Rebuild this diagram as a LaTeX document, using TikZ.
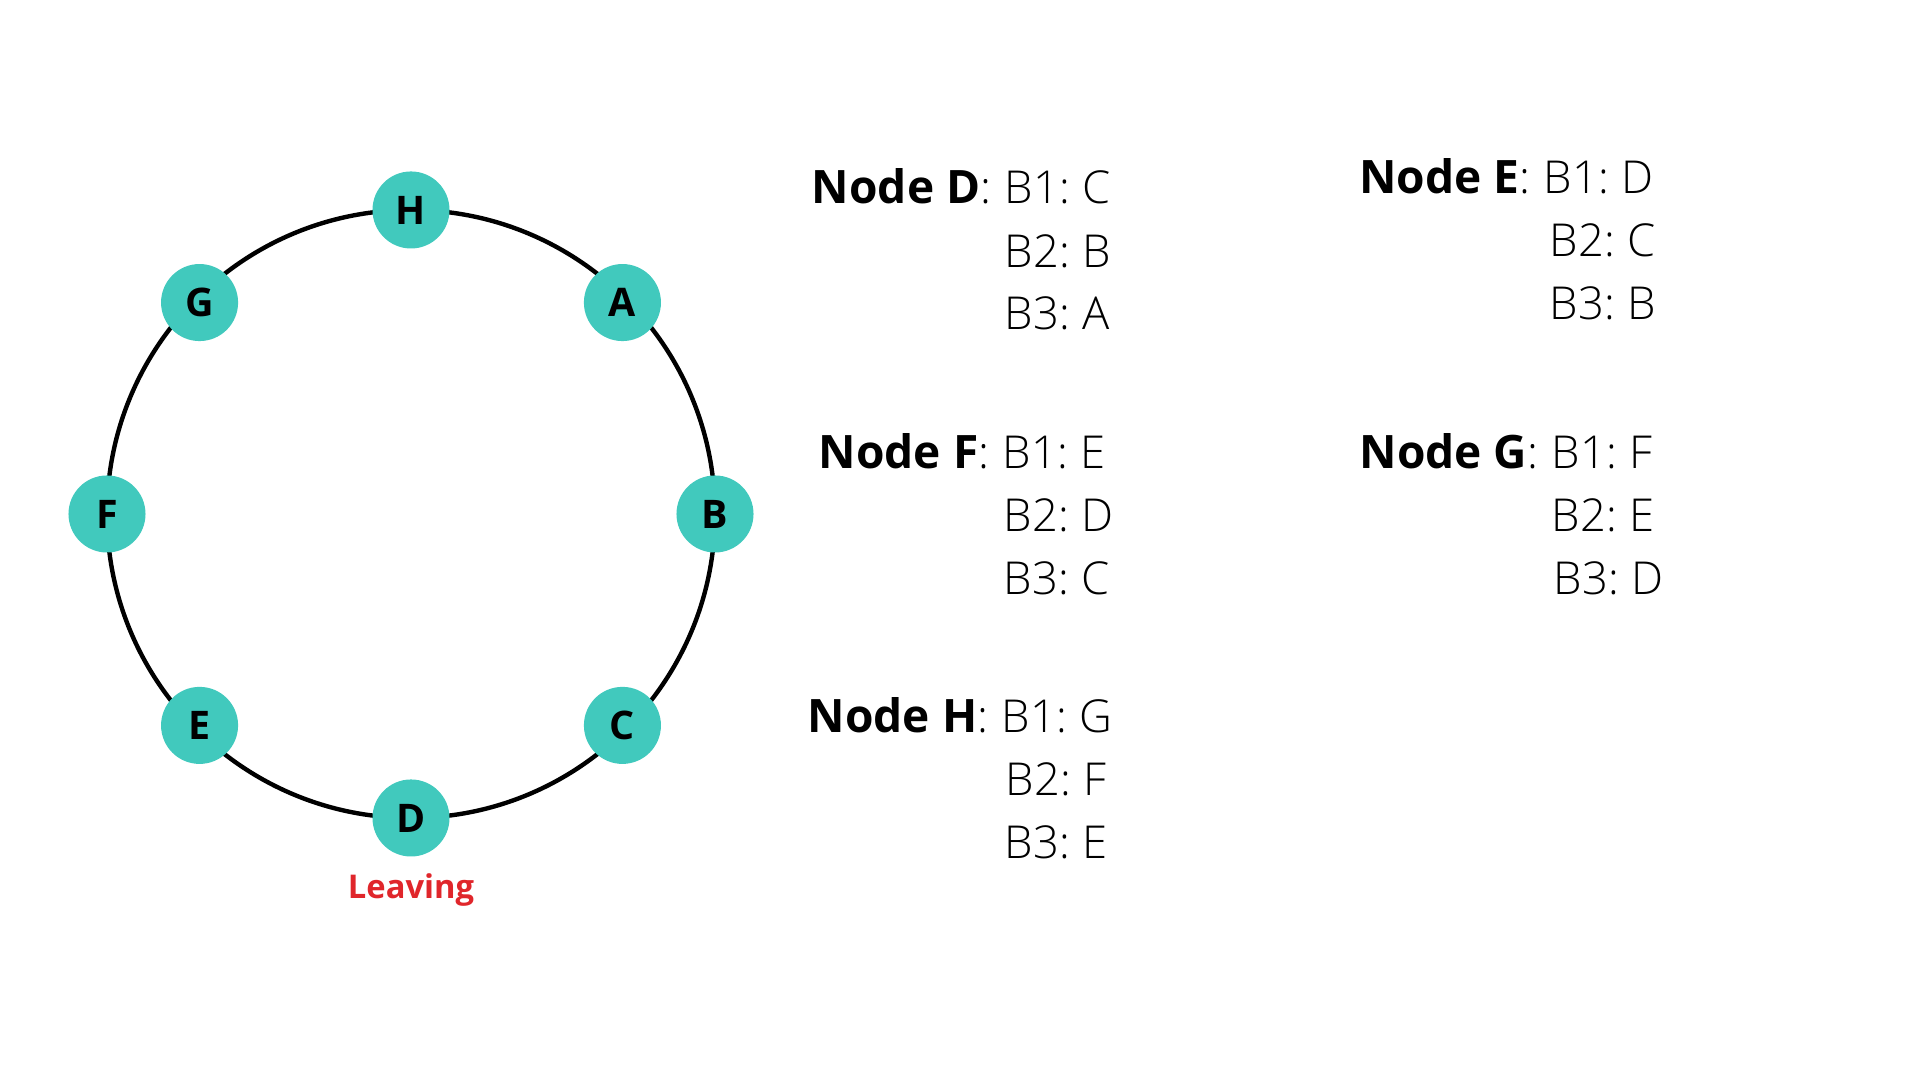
\documentclass[tikz,border=0pt]{standalone}
\usepackage{fontspec}
\setmainfont{Open Sans}
\newfontfamily\lightfont{Open Sans Light}[WordSpace=0.7]
\usetikzlibrary{positioning,calc}
\definecolor{ringteal}{HTML}{41C9BD}
\definecolor{leavered}{HTML}{E0262B}
\newcommand{\lcolon}{{\lightfont\mdseries:}}

\begin{document}
\begin{tikzpicture}[x=0.01cm,y=0.01cm,
		peer/.style={circle,fill=ringteal,minimum size=0.77cm,inner sep=0pt,font=\fontsize{11.2}{11.2}\selectfont\bfseries},
		entry/.style={inner sep=0pt,anchor=base west,font=\lightfont\fontsize{12.9}{12.9}\selectfont},
		head/.style={inner sep=0pt,font=\fontsize{13.1}{13.1}\selectfont\bfseries},
		leave/.style={inner sep=0pt,text=leavered,font=\fontsize{9.3}{9.3}\selectfont\bfseries}]
		\useasboundingbox (0,0) rectangle (1920,1080);
		% ring of peers
		\coordinate (ctr) at (411,566);
		\draw[line width=1.25pt] (ctr) circle (304);
		\foreach \name/\ang/\rad in {H/90/304,A/45/299,B/0/304,C/-45/299,D/-90/304,E/-135/299,F/180/304,G/135/299}
			\node[peer] (\name) at ($(ctr)+(\ang:\rad)$) {\name};
		\node[leave, below=0.16cm of D] (lv) {Leaving};
		% node D
		\node[entry] (d1) at (1004,876) {B1: C};
		\node[entry] (d2) at (1004,812) {B2: B};
		\node[entry] (d3) at (1004,750) {B3: A};
		\node[head, base left=0.12cm of d1] (dN) {Node D\lcolon};
		% node E
		\node[entry] (e1) at (1543,886) {B1: D};
		\node[entry] (e2) at (1549,823) {B2: C};
		\node[entry] (e3) at (1549,760) {B3: B};
		\node[head, base left=0.12cm of e1] (eN) {Node E\lcolon};
		% node F
		\node[entry] (f1) at (1002,611) {B1: E};
		\node[entry] (f2) at (1003,548) {B2: D};
		\node[entry] (f3) at (1003,485) {B3: C};
		\node[head, base left=0.12cm of f1] (fN) {Node F\lcolon};
		% node G
		\node[entry] (g1) at (1551,611) {B1: F};
		\node[entry] (g2) at (1551,548) {B2: E};
		\node[entry] (g3) at (1553,485) {B3: D};
		\node[head, base left=0.12cm of g1] (gN) {Node G\lcolon};
		% node H
		\node[entry] (h1) at (1001,347) {B1: G};
		\node[entry] (h2) at (1005,284) {B2: F};
		\node[entry] (h3) at (1004,221) {B3: E};
		\node[head, base left=0.12cm of h1] (hN) {Node H\lcolon};
	\end{tikzpicture}
\end{document}
